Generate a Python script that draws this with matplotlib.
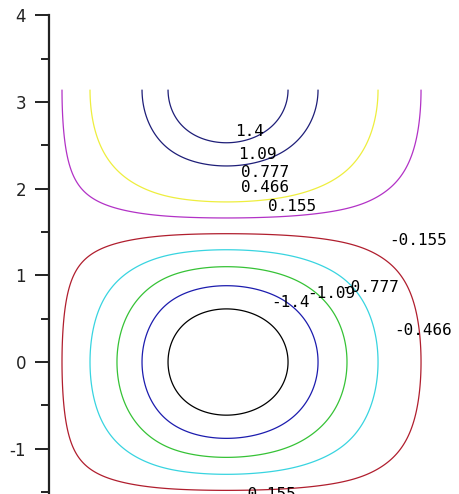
import numpy as np
import matplotlib
matplotlib.use('Agg')
import matplotlib.pyplot as plt

# contour levels and their line colours
levels = [-1.4, -1.09, -0.777, -0.466, -0.155, 0.155, 0.466, 0.777, 1.09, 1.4]
level_colors = ['#000000', '#1c1cae', '#36c236', '#38d4e0', '#b01e2e',
                '#b232c6', '#eeee3e', '#ffffff', '#1e1e78', '#1e1e78']

# field value along the top edge (y = pi), sampled across x
edge_x = [0.0, 0.150, 0.473, 0.784, 1.073, 1.373, 2.065,
          2.757, 3.103, 3.437, 3.795, 4.291, 4.602]
edge_val = [0.0, 0.155, 0.466, 0.777, 1.09, 1.4, 1.711,
            1.4, 1.09, 0.777, 0.466, 0.155, 0.0]

# contour labels: value and anchor point
label_vals = [1.4, 1.09, 0.777, 0.466, 0.155,
              -0.155, -0.777, -1.09, -1.4, -0.466, -0.155]
label_x = [2.318, 2.399, 2.491, 2.491, 2.803,
           4.256, 3.702, 3.253, 2.780, 4.314, 2.514]
label_y = [2.664, 2.399, 2.191, 2.018, 1.799,
           1.407, 0.865, 0.796, 0.681, 0.369, -1.522]

yticks = [-1, 0, 1, 2, 3, 4]
yticks_minor = [-1.5, -0.5, 0.5, 1.5, 2.5, 3.5]


def cubic_spline(xk, yk, xq):
    # natural cubic spline through the edge samples
    xk = np.asarray(xk, float)
    yk = np.asarray(yk, float)
    n = len(xk)
    h = np.diff(xk)
    A = np.zeros((n, n))
    r = np.zeros(n)
    A[0, 0] = A[-1, -1] = 1.0
    for i in range(1, n - 1):
        A[i, i - 1] = h[i - 1]
        A[i, i] = 2 * (h[i - 1] + h[i])
        A[i, i + 1] = h[i]
        r[i] = 6 * ((yk[i + 1] - yk[i]) / h[i] - (yk[i] - yk[i - 1]) / h[i - 1])
    M = np.linalg.solve(A, r)
    i = np.clip(np.searchsorted(xk, xq) - 1, 0, n - 2)
    t0 = xk[i + 1] - xq
    t1 = xq - xk[i]
    hi = h[i]
    return (M[i] * t0 ** 3 / (6 * hi) + M[i + 1] * t1 ** 3 / (6 * hi)
            + (yk[i] / hi - M[i] * hi / 6) * t0
            + (yk[i + 1] / hi - M[i + 1] * hi / 6) * t1)


x = np.linspace(edge_x[0], edge_x[-1], 700)
y = np.linspace(-np.pi / 2, np.pi, 700)
X, Y = np.meshgrid(x, y)
Z = -cubic_spline(edge_x, edge_val, X) * np.cos(Y)

fig = plt.figure(figsize=(4.59, 4.94), dpi=100)
ax = fig.add_axes([49 / 459, 0, 410 / 459, (494 - 15.2) / 494])

ax.contour(X, Y, Z, levels=levels, colors=level_colors, linewidths=0.9)

for v, lx, ly in zip(label_vals, label_x, label_y):
    ax.text(lx, ly, '%g' % v, ha='center', va='center',
            family='DejaVu Sans Mono', fontsize=11.5, color='black')

ax.set_xlim(0, 410 / 86.7)
ax.set_ylim(-1.522, 4)

for side in ['top', 'right', 'bottom']:
    ax.spines[side].set_visible(False)
ax.spines['left'].set_linewidth(1.6)
ax.spines['left'].set_color('#222222')

ax.set_xticks([])
ax.set_yticks(yticks)
ax.set_yticklabels([str(t) for t in yticks])
ax.set_yticks(yticks_minor, minor=True)
ax.tick_params(axis='y', which='major', direction='out', length=10, width=1.4,
               color='#222222', pad=6.5, labelsize=12, labelcolor='#222222')
ax.tick_params(axis='y', which='minor', direction='out', length=5.5, width=1.4,
               color='#222222')

fig.savefig('out.png', dpi=100)
